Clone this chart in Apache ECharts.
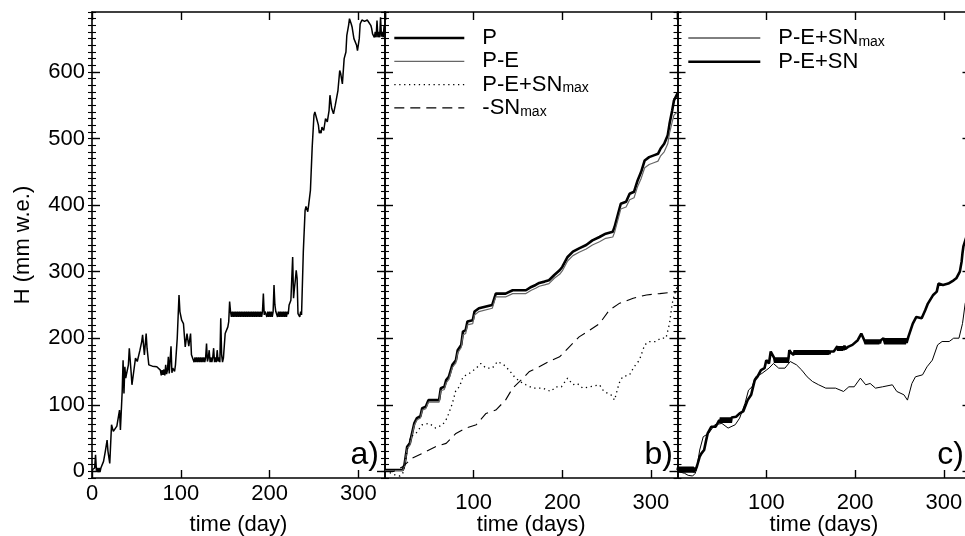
<!DOCTYPE html>
<html><head><meta charset="utf-8">
<script src="https://cdn.jsdelivr.net/npm/echarts@6/dist/echarts.min.js"></script>
<style>html,body{margin:0;padding:0;background:#fff}#c{width:965px;height:536px}</style>
</head><body><div id="c"></div>
<script>
// ---------------- data (day, mm w.e.) ----------------
const yMajorTicks = [0, 100, 200, 300, 400, 500, 600];
const xNames = ['time (day)', 'time (days)', 'time (days)'];
const panelLabels = ['a)', 'b)', 'c)'];

// panel a: measured snow height
const snowHeight = [[0,2],[1,5],[2,-1],[3,5],[4,25],[5,1],[6,5],[7,-1],[8,5],[9,-1],[10,5],[11,3],
[13,15],[15,30],[17,47],[18,30],[20,12],[22,70],[24,60],[26,57],[28,68],[29,65],[31,92],[32,62],[34,120],[35,167],[36,117],[37,157],[38,140],[39,147],[41,160],[42,185],[44,150],[45,130],[47,150],[49,170],[51,165],[54,182],[56,195],[57,205],[59,175],[61,207],[62,185],[64,160],[68,158],[73,157],[77,152],
[78,144],[79,152],[80,145],[81,153],[82,144],[83,160],[84,146],[85,152],[86,172],[87,147],[88,150],[89,188],[90,148],[91,155],[92,152],[93,150],[94,160],[96,200],[98,265],[99,240],[101,227],[103,222],[105,187],[107,207],[109,188],[111,207],[112,175],[114,172],
[115,164],[116,171],[117,164],[118,171],[119,164],[120,171],[121,164],[122,171],[123,164],[124,171],[125,164],[126,171],[127,164],[128,171],[129,192],[130,165],[131,171],[132,182],[133,164],[134,171],[135,164],[136,171],[137,185],[138,164],[139,171],[140,164],[141,182],[142,165],[143,171],[144,164],[145,230],[146,175],[147,164],[148,170],
[150,207],[152,210],[153,217],[154,225],[155,255],[156,240],
[157,232],[158,240],[159,232],[160,240],[161,232],[162,240],[163,232],[164,240],[165,232],[166,240],[167,232],[168,240],[169,232],[170,240],[171,232],[172,240],[173,232],[174,240],[175,232],[176,240],[177,232],[178,240],[179,232],[180,240],[181,232],[182,240],[183,232],[184,240],[185,232],[186,240],[187,232],[188,240],[189,232],[190,240],[191,232],[192,240],[193,267],[194,235],[195,240],[196,242],[197,232],[198,240],[199,232],[200,240],[201,232],[202,240],[203,232],[204,240],[205,280],[206,250],[207,240],[208,240],[209,232],[210,240],[211,232],[212,240],[213,232],[214,240],[215,232],[216,240],[217,232],[218,240],[219,232],[220,240],[221,236],[222,250],[224,257],[225,255],[226,322],[227,260],[228,275],[229,287],[230,302],[231,290],[232,237],[233,240],[234,232],[235,240],[236,235],
[238,330],[240,392],[241,398],[243,390],[244,400],[246,422],[248,487],[250,535],[251,540],[253,530],[255,520],[256,508],[257,512],[258,508],[259,517],[261,512],[263,530],[265,525],[266,528],[267,542],[268,565],[270,545],[272,537],[274,550],[276,548],[277,572],[279,602],[280,598],[282,582],[283,585],[284,620],[286,630],[287,655],[289,670],[290,680],[292,672],[293,667],[295,650],[296,647],[298,640],[299,632],[301,650],[302,672],[304,678],[305,680],[307,676],[308,674],[310,678],[312,677],[314,670],[315,665],[316,657],
[317,660],[318,652],[319,660],[320,652],[321,677],[322,652],[323,660],[324,652],[325,682],[326,653],[327,660],[328,652],[329,670],[330,656]];

// panel b
const precipP = [[0,2],[20,2],[22,10],[25,37],[28,42],[30,44],[33,72],[36,80],[40,83],[42,95],[46,97],[49,107],[61,107],[63,125],[67,127],[69,137],[72,142],[76,160],[80,167],[82,182],[86,190],[88,210],[91,212],[93,225],[99,227],[101,240],[106,245],[108,248],[121,250],[125,267],[136,267],[144,272],[159,272],[165,277],[170,280],[174,283],[180,285],[185,287],[191,295],[197,302],[200,307],[206,322],[212,330],[219,335],[227,340],[234,347],[242,352],[249,357],[257,360],[259,367],[262,382],[266,402],[272,405],[276,417],[281,420],[285,437],[289,450],[293,467],[298,472],[304,475],[308,477],[311,485],[315,492],[319,505],[321,522],[324,542],[326,557],[330,568]];
const precipMinusEvap = [[0,1],[20,1],[22,8],[25,34],[28,39],[30,41],[33,69],[36,77],[40,80],[42,92],[46,94],[49,104],[61,104],[63,121],[67,123],[69,133],[72,138],[76,156],[80,163],[82,178],[86,186],[88,205],[91,207],[93,220],[99,222],[101,235],[106,240],[108,243],[121,245],[125,262],[136,262],[144,267],[159,267],[165,272],[170,275],[174,278],[180,280],[185,282],[191,290],[197,296],[200,301],[206,316],[212,324],[219,329],[227,334],[234,340],[242,345],[249,350],[257,352],[259,359],[262,374],[266,394],[272,397],[276,408],[281,411],[285,428],[289,440],[293,456],[298,461],[304,464],[308,466],[311,474],[315,480],[319,492],[321,508],[324,525],[326,535],[330,540]];
const peSnMax = [[0,0],[8,-3],[12,-6],[17,-7],[20,-3],[22,7],[25,32],[29,52],[35,57],[42,70],[50,72],[57,65],[65,70],[70,80],[76,102],[80,122],[84,127],[88,142],[95,147],[103,155],[108,162],[114,155],[121,155],[127,165],[134,160],[140,152],[146,142],[152,135],[159,130],[167,125],[178,125],[187,120],[193,127],[199,127],[206,140],[212,130],[217,132],[223,125],[231,127],[242,130],[247,120],[255,115],[259,107],[264,132],[268,142],[276,145],[281,157],[287,167],[293,190],[298,195],[306,195],[311,200],[317,200],[321,222],[324,252],[328,272],[330,278]];
const negSnMax = [[0,0],[10,0],[20,7],[31,20],[42,27],[57,37],[69,42],[80,57],[91,65],[103,70],[114,87],[125,92],[136,107],[144,125],[152,135],[163,150],[174,157],[185,165],[197,172],[208,187],[219,202],[231,212],[242,222],[253,242],[264,252],[280,260],[295,265],[310,267],[330,270]];

// panel c
const peSn = [[0,2],[1,7],[2,-2],[3,7],[4,-2],[5,7],[6,-2],[7,7],[8,-2],[9,7],[10,-2],[11,7],[12,-2],[13,7],[14,-2],[15,7],[16,-2],[17,7],[18,-2],[19,6],[20,1],[22,8],[25,22],[27,27],[30,32],[32,45],[34,57],[38,67],[43,67],[47,77],
[48,73],[49,81],[50,73],[51,81],[52,73],[53,81],[54,73],[55,81],[56,73],[57,81],[58,73],[59,81],[60,73],[61,81],[62,78],[66,82],[70,87],[74,90],[79,107],[83,115],[87,137],[90,142],[94,152],[98,155],[100,167],[103,162],[105,180],[109,170],
[110,163],[111,171],[112,163],[113,171],[114,163],[115,171],[116,163],[117,171],[118,163],[119,171],[120,163],[121,171],[122,163],[123,171],[124,163],[125,170],[126,182],[128,178],[130,180],
[131,175],[132,182],[133,175],[134,182],[135,175],[136,182],[137,175],[138,182],[139,175],[140,182],[141,175],[142,182],[143,175],[144,182],[145,175],[146,182],[147,175],[148,182],[149,175],[150,182],[151,175],[152,182],[153,175],[154,182],[155,175],[156,182],[157,175],[158,182],[159,175],[160,182],[161,175],[162,182],[163,175],[164,182],[165,175],[166,182],[167,175],[168,182],[169,175],[170,182],[171,176],[172,180],
[174,182],[176,180],[178,184],[179,181],[180,188],[181,181],[182,188],[183,181],[184,188],[185,181],[186,188],[187,182],[188,189],[189,184],[190,187],[192,187],[197,190],[203,197],[207,207],[211,195],
[212,191],[213,198],[214,191],[215,198],[216,191],[217,198],[218,191],[219,198],[220,191],[221,198],[222,191],[223,198],[224,191],[225,198],[226,191],[227,198],[228,192],[229,197],[232,200],
[234,191],[235,200],[236,191],[237,200],[238,191],[239,200],[240,191],[241,200],[242,191],[243,200],[244,191],[245,200],[246,191],[247,200],[248,191],[249,200],[250,191],[251,200],[252,191],[253,200],[254,191],[255,200],[256,191],[257,200],[258,193],
[260,202],[265,222],[269,232],[275,230],[279,242],[282,252],[288,265],[292,270],[294,282],[299,280],[305,282],[311,287],[314,290],[318,300],[320,315],[321,328],[322,338],[326,355],[330,365]];

// ---------------- layout / styling ----------------
const FONT = '"Liberation Sans", Arial, Helvetica, sans-serif';
const X_MAX = 330, Y_MIN = -10, Y_MAX = 690;
const gridBoxes = [
  {left: 92, top: 12, width: 293, height: 466},
  {left: 385, top: 12, width: 292.5, height: 466},
  {left: 677.5, top: 12, width: 293, height: 466}
];
const txt = {fontSize: 22, color: '#000', fontFamily: FONT};
const axLine = {show: true, onZero: false, lineStyle: {color: '#000', width: 1.6}};

const xAxis = [], yAxis = [];
gridBoxes.forEach((g, i) => {
  xAxis.push({
    type: 'value', gridIndex: i, position: 'bottom', min: 0, max: X_MAX, interval: 100,
    axisLine: axLine,
    axisTick: {show: true, inside: true, length: 8, lineStyle: {color: '#000', width: 1.4}},
    axisLabel: Object.assign({show: true, showMinLabel: i === 0, showMaxLabel: false, margin: i === 0 ? 5 : 14}, txt),
    splitLine: {show: false},
    name: xNames[i], nameLocation: 'middle', nameGap: 36, nameMoveOverlap: false, nameTextStyle: txt
  });
  xAxis.push({
    type: 'value', gridIndex: i, position: 'top', min: 0, max: X_MAX, interval: 100,
    axisLine: axLine,
    axisTick: {show: true, inside: true, length: 8, lineStyle: {color: '#000', width: 1.4}},
    axisLabel: {show: false}, splitLine: {show: false}
  });
  ['left', 'right'].forEach(pos => {
    yAxis.push({
      type: 'value', gridIndex: i, position: pos, min: Y_MIN, max: Y_MAX,
      axisLine: axLine,
      axisTick: {show: true, inside: true, length: 8, customValues: yMajorTicks, lineStyle: {color: '#000', width: 1.4}},
      axisLabel: Object.assign({show: i === 0 && pos === 'left', customValues: yMajorTicks, margin: 7}, txt),
      splitLine: {show: false},
      name: (i === 0 && pos === 'left') ? 'H (mm w.e.)' : '', nameLocation: 'middle', nameGap: 58,
      nameTextStyle: txt
    });
    yAxis.push({
      type: 'value', gridIndex: i, position: pos, min: Y_MIN, max: Y_MAX, interval: 10,
      axisLine: {show: false},
      axisTick: {show: true, inside: true, length: 4, lineStyle: {color: '#000', width: 1.1}},
      axisLabel: {show: false}, splitLine: {show: false}
    });
  });
});

function line(name, data, grid, style) {
  return {
    name, type: 'line', data, xAxisIndex: grid * 2, yAxisIndex: grid * 4,
    showSymbol: false, symbol: 'none', animation: false, clip: true,
    itemStyle: {color: style.color},
    lineStyle: style, z: 3
  };
}

const series = [
  line('H', snowHeight, 0, {color: '#000', width: 1.5}),
  line('P', precipP, 1, {color: '#000', width: 2.6}),
  line('P-E', precipMinusEvap, 1, {color: '#666', width: 1.2}),
  line('P-E+SNmax', peSnMax, 1, {color: '#000', width: 1.3, type: [1.3, 3.6]}),
  line('-SNmax', negSnMax, 1, {color: '#000', width: 1.1, type: [10, 6]}),
  line('P-E+SNmax c', peSnMax, 2, {color: '#000', width: 1}),
  line('P-E+SN', peSn, 2, {color: '#000', width: 2.6})
];

const legendText = {
  'P': '{sp|}P', 'P-E': '{sp|}P-E', 'P-E+SNmax': '{sp|}P-E+SN{s|max}', '-SNmax': '{sp|}-SN{s|max}',
  'P-E+SNmax c': '{sp|}P-E+SN{s|max}', 'P-E+SN': '{sp|}P-E+SN'
};
const legendTextStyle = {
  fontSize: 22, color: '#000', fontFamily: FONT, lineHeight: 22,
  rich: {
    sp: {width: 13},
    s: {fontSize: 14, lineHeight: 8, verticalAlign: 'bottom', fontFamily: FONT, color: '#000'}
  }
};
const noSym = {color: 'rgba(0,0,0,0)', borderColor: 'rgba(0,0,0,0)', borderWidth: 0};

const option = {
  backgroundColor: '#fff',
  animation: false,
  grid: gridBoxes.map(g => Object.assign({containLabel: false, outerBoundsMode: 'none'}, g)),
  xAxis, yAxis, series,
  legend: [
    {
      orient: 'vertical', left: 393, top: 27, padding: 0, itemWidth: 70, itemHeight: 14, itemGap: 1.3,
      selectedMode: false, formatter: n => legendText[n], textStyle: legendTextStyle,
      itemStyle: noSym,
      data: [
        {name: 'P', lineStyle: {width: 2.6}, itemStyle: noSym},
        {name: 'P-E', lineStyle: {width: 1.2}, itemStyle: noSym},
        {name: 'P-E+SNmax', lineStyle: {width: 1.3}, itemStyle: noSym},
        {name: '-SNmax', lineStyle: {width: 1.1}, itemStyle: noSym}
      ]
    },
    {
      orient: 'vertical', left: 687, top: 27, padding: 0, itemWidth: 72, itemHeight: 14, itemGap: 1.7,
      selectedMode: false, formatter: n => legendText[n], textStyle: legendTextStyle,
      itemStyle: noSym,
      data: [
        {name: 'P-E+SNmax c', lineStyle: {width: 1}, itemStyle: noSym},
        {name: 'P-E+SN', lineStyle: {width: 2.6}, itemStyle: noSym}
      ]
    }
  ],
  graphic: panelLabels.map((t, i) => ({
    type: 'text', x: [379, 673, 964][i], y: 471, z: 10,
    style: {text: t, fontSize: 32, fontFamily: FONT, fill: '#000', align: 'right', verticalAlign: 'bottom'}
  }))
};

const chart = echarts.init(document.getElementById('c'), null, {renderer: 'canvas'});
chart.setOption(option);
</script>
</body></html>
